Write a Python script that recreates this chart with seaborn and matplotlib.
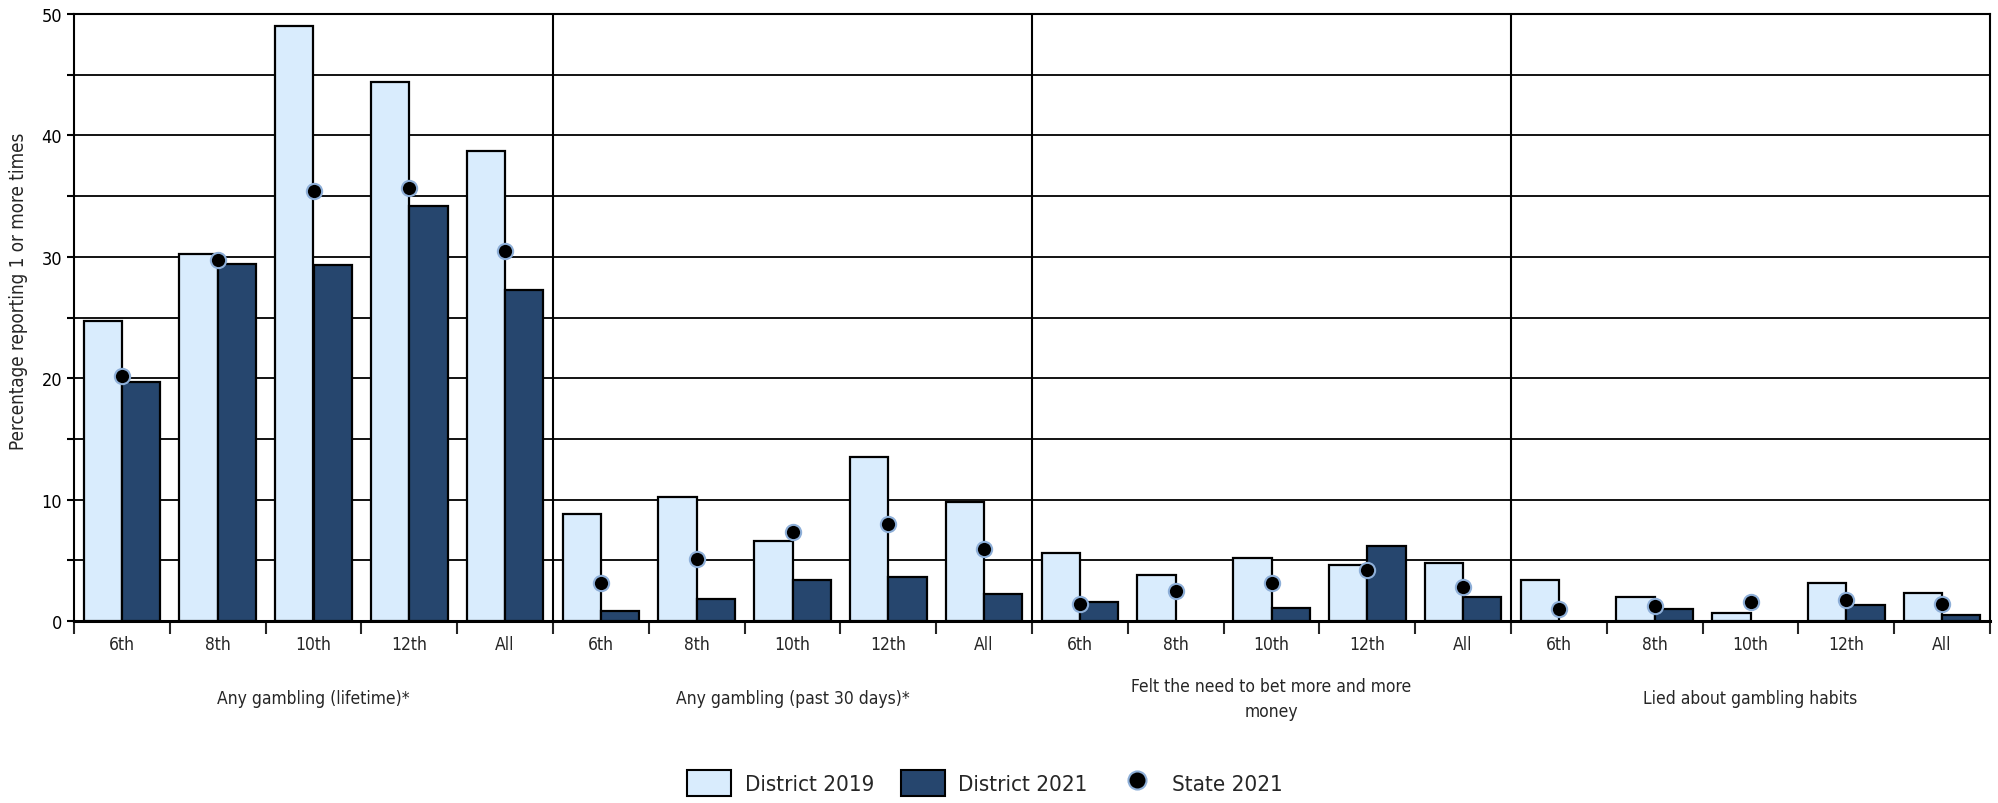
import numpy as np
import pandas as pd
import matplotlib
matplotlib.use("Agg")
import matplotlib.pyplot as plt
import seaborn as sns
from matplotlib.patches import Patch
from matplotlib.lines import Line2D

groups = ["Any gambling (lifetime)*", "Any gambling (past 30 days)*",
          "Felt the need to bet more and more\nmoney", "Lied about gambling habits"]
grades = ["6th", "8th", "10th", "12th", "All"]
district_2019 = [24.7, 30.2, 49.0, 44.4, 38.7,
                 8.8, 10.2, 6.6, 13.5, 9.8,
                 5.6, 3.8, 5.2, 4.6, 4.8,
                 3.4, 2.0, 0.7, 3.1, 2.3]
district_2021 = [19.7, 29.4, 29.3, 34.2, 27.3,
                 0.8, 1.8, 3.4, 3.6, 2.2,
                 1.6, np.nan, 1.1, 6.2, 2.0,
                 np.nan, 1.0, np.nan, 1.3, 0.5]
state_2021 = [20.2, 29.7, 35.4, 35.7, 30.5,
              3.1, 5.1, 7.3, 8.0, 5.9,
              1.4, 2.5, 3.1, 4.2, 2.8,
              1.0, 1.2, 1.6, 1.7, 1.4]
series_names = ["District 2019", "District 2021", "State 2021"]

LIGHT = "#D9ECFD"
DARK = "#26466E"
DOT_EDGE = "#8EAFD8"

keys = [f"{g}|{gr}" for g in groups for gr in grades]
bars = pd.DataFrame({
    "key": keys * 2,
    "value": district_2019 + district_2021,
    "series": [series_names[0]] * len(keys) + [series_names[1]] * len(keys),
})
state = pd.DataFrame({"key": keys, "value": state_2021})

sns.set_style("ticks")
plt.rcParams["font.family"] = ["DejaVu Sans"]
plt.rcParams["font.stretch"] = "condensed"

fig = plt.figure(figsize=(19.99, 8.04), dpi=100)
ax = fig.add_axes([74 / 1999, 1 - 622 / 804, (1990 - 74) / 1999, (622 - 15) / 804])

sns.barplot(data=bars, x="key", y="value", hue="series", order=keys,
            hue_order=series_names[:2], palette=[LIGHT, DARK], saturation=1,
            edgecolor="black", linewidth=1.6, errorbar=None, width=0.8,
            legend=False, ax=ax, zorder=3)
sns.pointplot(data=state, x="key", y="value", order=keys, color="black",
              linestyle="none", marker="o", markersize=11,
              markeredgecolor=DOT_EDGE, markeredgewidth=1.5,
              errorbar=None, ax=ax, zorder=5)

n = len(keys)
ax.set_xlim(-0.5, n - 0.5)
ax.set_ylim(0, 50)

ax.set_yticks(np.arange(0, 51, 10))
ax.set_yticks(np.arange(5, 50, 10), minor=True)
ax.tick_params(axis="y", which="both", direction="out", length=5, width=1.5,
               labelsize=13, colors="black")
ax.yaxis.grid(True, which="both", color="black", linewidth=1.3, zorder=0)
ax.set_axisbelow(True)
ax.set_ylabel("Percentage reporting 1 or more times", fontsize=13.5)
ax.yaxis.set_label_coords(-0.024, 0.545)

ax.set_xticks(range(n))
ax.set_xticklabels(grades * len(groups))
ax.set_xticks(np.arange(-0.5, n, 1), minor=True)
ax.tick_params(axis="x", which="major", length=0, labelsize=12.5, pad=10)
ax.tick_params(axis="x", which="minor", length=9, width=1.5, direction="out")
ax.set_xlabel("")

for b in [4.5, 9.5, 14.5]:
    ax.axvline(b, color="black", linewidth=1.5, zorder=4)

for s in ax.spines.values():
    s.set_color("black")
    s.set_linewidth(1.5)
    s.set_visible(True)
ax.spines["bottom"].set_linewidth(2.2)

trans = ax.get_xaxis_transform()
for i, g in enumerate(groups):
    ax.text(i * 5 + 2, -0.127, g, transform=trans, ha="center", va="center",
            fontsize=12.5, linespacing=1.5)

handles = [
    Patch(facecolor=LIGHT, edgecolor="black", linewidth=1.5, label=series_names[0]),
    Patch(facecolor=DARK, edgecolor="black", linewidth=1.5, label=series_names[1]),
    Line2D([], [], linestyle="none", marker="o", markersize=13, color="black",
           markeredgecolor=DOT_EDGE, markeredgewidth=1.5, label=series_names[2]),
]
fig.legend(handles=handles, loc="center", bbox_to_anchor=(985 / 1999, 1 - 784 / 804),
           ncol=3, frameon=False, fontsize=16, handlelength=2.0, handleheight=1.4,
           columnspacing=1.2, handletextpad=0.6)

fig.savefig("out.png", dpi=100)
